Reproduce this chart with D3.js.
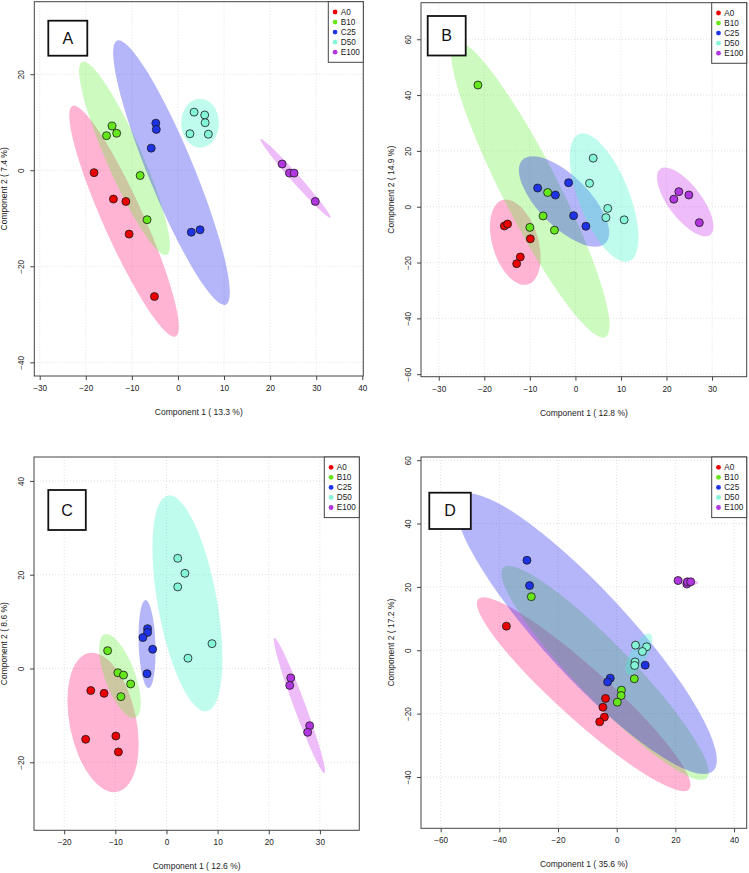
<!DOCTYPE html>
<html>
<head>
<meta charset="utf-8">
<script src="https://cdn.jsdelivr.net/npm/d3@7"></script>
<style>
  body { margin: 0; background: #fff; }
  svg { display: block; }
  text { font-family: "Liberation Sans", Arial, sans-serif; fill: #222; }
</style>
</head>
<body>
<div id="plot"></div>
<script>
"use strict";

//
//   DATA
//

var groups = ["A0", "B10", "C25", "D50", "E100"];
var pointColors = ["#ea0000", "#66e61c", "#1f33e6", "#84f5d6", "#b136e0"];
var ellipseColors = ["#ff1a78", "#64f03c", "#1e1ef0", "#40f5cc", "#cc33ee"];

// points: [group index, component 1, component 2]
var pointsA = [
    [0, -18.2, -0.5], [0, -14.0, -6.0], [0, -11.3, -6.5], [0, -10.6, -13.3], [0, -5.1, -26.3],
    [1, -14.3, 9.2], [1, -15.5, 7.2], [1, -13.3, 7.7], [1, -8.2, -1.1], [1, -6.7, -10.3],
    [2, -4.8, 9.8], [2, -4.7, 8.5], [2, -5.8, 4.6], [2, 2.9, -12.9], [2, 4.8, -12.4],
    [3, 3.5, 12.1], [3, 5.8, 11.5], [3, 5.9, 9.9], [3, 2.6, 7.6], [3, 6.6, 7.5],
    [4, 22.6, 1.3], [4, 24.2, -0.6], [4, 25.2, -0.6], [4, 29.8, -6.5]
];
var pointsB = [
    [0, -15.6, -6.9], [0, -14.9, -6.2], [0, -9.9, -11.5], [0, -12.1, -18.0], [0, -12.9, -20.4],
    [1, -21.4, 43.6], [1, -6.1, 5.1], [1, -7.1, -3.3], [1, -10.0, -7.4], [1, -4.6, -8.4],
    [2, -8.3, 6.7], [2, -4.4, 4.2], [2, -1.5, 8.6], [2, -0.4, -3.2], [2, 2.3, -7.0],
    [3, 3.9, 17.4], [3, 3.1, 8.4], [3, 7.1, -0.6], [3, 6.7, -3.9], [3, 10.7, -4.7],
    [4, 21.6, 2.7], [4, 22.7, 5.4], [4, 24.9, 4.2], [4, 27.2, -5.7]
];
var pointsC = [
    [0, -14.8, -4.7], [0, -12.2, -5.3], [0, -15.8, -15.1], [0, -9.9, -14.4], [0, -9.4, -17.8],
    [1, -11.5, 3.8], [1, -9.5, -0.9], [1, -8.4, -1.4], [1, -7.0, -3.3], [1, -8.9, -6.0],
    [2, -3.7, 8.5], [2, -3.7, 7.7], [2, -4.6, 6.6], [2, -2.7, 4.1], [2, -3.8, -1.1],
    [3, 2.2, 23.5], [3, 3.6, 20.3], [3, 2.2, 17.4], [3, 8.9, 5.3], [3, 4.2, 2.2],
    [4, 24.3, -2.0], [4, 24.1, -3.6], [4, 28.0, -12.2], [4, 27.6, -13.6]
];
var pointsD = [
    [0, -37.6, 7.6], [0, -3.8, -15.2], [0, -4.7, -18.0], [0, -4.2, -21.1], [0, -5.8, -22.6],
    [1, -29.1, 16.9], [1, 1.6, -12.6], [1, 1.5, -14.3], [1, 0.2, -16.4], [1, 6.0, -9.0],
    [2, -30.6, 28.4], [2, -29.7, 20.4], [2, -2.2, -8.8], [2, -3.1, -10.0], [2, 9.7, -4.7],
    [3, 6.4, 1.6], [3, 10.2, 1.1], [3, 8.75, -0.4], [3, 6.25, -3.7], [3, 6.1, -4.8],
    [4, 20.9, 22.0], [4, 23.9, 20.9], [4, 24.1, 21.6], [4, 25.2, 21.6]
];

// ellipses: [group index, centre x, centre y, major tip x, major tip y, minor/major ratio]
var ellipsesA = [
    [0, -11.7, -10.6, -22.9, 13.4, 0.16],
    [1, -11.6, 2.5, -20.8, 22.6, 0.17],
    [2, -1.4, -0.5, -13.2, 27.0, 0.16],
    [3, 4.8, 9.8, 4.8, 14.9, 0.77],
    [4, 25.5, -1.7, 17.9, 6.5, 0.08]
];
var ellipsesB = [
    [0, -13.2, -12.7, -16.0, 2.4, 0.52],
    [1, -9.9, 6.2, -26.4, 59.1, 0.17],
    [2, -2.5, 1.9, -11.6, 16.8, 0.43],
    [3, 6.3, 3.3, 0.8, 26.1, 0.37],
    [4, 24.1, 1.7, 18.6, 13.5, 0.40]
];
var ellipsesC = [
    [0, -12.4, -11.5, -15.2, 3.3, 0.47],
    [1, -9.1, -1.6, -12.1, 7.3, 0.34],
    [2, -3.8, 5.2, -4.1, 14.6, 0.19],
    [3, 4.1, 13.9, 0.3, 36.9, 0.27],
    [4, 26.0, -7.9, 21.1, 6.5, 0.08]
];
var ellipsesD = [
    [0, -11.25, -13.9, -47.2, 16.1, 0.18],
    [1, -4.0, -7.15, -38.7, 26.1, 0.19],
    [2, -10.3, 5.2, -53.4, 48.5, 0.23],
    [3, 7.6, -1.2, 11.4, 5.2, 0.36],
    [4, 23.9, 21.6, 27.8, 21.2, 0.26]
];

var xTicksA = [-30, -20, -10, 0, 10, 20, 30, 40];
var yTicksA = [-40, -20, 0, 20];
var xTicksB = [-30, -20, -10, 0, 10, 20, 30];
var yTicksB = [-60, -40, -20, 0, 20, 40, 60];
var xTicksC = [-20, -10, 0, 10, 20, 30];
var yTicksC = [-20, 0, 20, 40];
var xTicksD = [-60, -40, -20, 0, 20, 40];
var yTicksD = [-40, -20, 0, 20, 40, 60];

var xTitles = ["Component 1 ( 13.3 %)", "Component 1 ( 12.8 %)", "Component 1 ( 12.6 %)", "Component 1 ( 35.6 %)"];
var yTitles = ["Component 2 ( 7.4 %)", "Component 2 ( 14.9 %)", "Component 2 ( 8.6 %)", "Component 2 ( 17.2 %)"];
var panelLetters = ["A", "B", "C", "D"];


//
//   LAYOUT
//

var WIDTH = 749;
var HEIGHT = 873;
var POINT_R = 4;
var ELLIPSE_OPACITY = 0.33;

var panels = [
    { box: [34.3, 1.7, 363.3, 376], xDom: [-31.17, 40.22], yDom: [35.1, -42.85],
      xTicks: xTicksA, yTicks: yTicksA, points: pointsA, ellipses: ellipsesA, tag: [14, 19, 39, 35] },
    { box: [421, 2.7, 746.7, 376.7], xDom: [-33.9, 37.6], yDom: [73.1, -60.9],
      xTicks: xTicksB, yTicks: yTicksB, points: pointsB, ellipses: ellipsesB, tag: [6.7, 13.3, 38, 39.5] },
    { box: [34, 457, 359.3, 830.3], xDom: [-25.9, 37.7], yDom: [45.1, -34.5],
      xTicks: xTicksC, yTicks: yTicksC, points: pointsC, ellipses: ellipsesC, tag: [14.3, 33, 37.5, 40] },
    { box: [421, 457, 746.7, 828.3], xDom: [-66.7, 44.3], yDom: [61.0, -56.2],
      xTicks: xTicksD, yTicks: yTicksD, points: pointsD, ellipses: ellipsesD, tag: [8.3, 35.7, 41.5, 36.3] }
];

var svg = d3.select("#plot").append("svg")
    .attr("width", WIDTH)
    .attr("height", HEIGHT);

panels.forEach(function (p, i) {
    drawPanel(p, i);
});


//
//   DRAWING
//

function drawPanel(p, i) {
    var left = p.box[0], top = p.box[1], right = p.box[2], bottom = p.box[3];
    var x = d3.scaleLinear().domain(p.xDom).range([left, right]);
    var y = d3.scaleLinear().domain(p.yDom).range([top, bottom]);
    var g = svg.append("g");

    // Gridlines
    p.xTicks.forEach(function (t) {
        g.append("line")
            .attr("x1", x(t)).attr("x2", x(t)).attr("y1", top).attr("y2", bottom)
            .attr("stroke", "#d9d9d9").attr("stroke-width", 0.8).attr("stroke-dasharray", "1,2");
    });
    p.yTicks.forEach(function (t) {
        g.append("line")
            .attr("x1", left).attr("x2", right).attr("y1", y(t)).attr("y2", y(t))
            .attr("stroke", "#d9d9d9").attr("stroke-width", 0.8).attr("stroke-dasharray", "1,2");
    });

    // Ellipses clipped to the box
    var clipId = "clip" + i;
    g.append("clipPath").attr("id", clipId).append("rect")
        .attr("x", left).attr("y", top).attr("width", right - left).attr("height", bottom - top);

    g.append("g").attr("clip-path", "url(#" + clipId + ")")
        .selectAll("ellipse").data(p.ellipses).enter().append("ellipse")
        .attr("rx", function (e) { return ellipseAxis(e, x, y).a; })
        .attr("ry", function (e) { return ellipseAxis(e, x, y).a * e[5]; })
        .attr("transform", function (e) {
            var ax = ellipseAxis(e, x, y);
            return "translate(" + x(e[1]) + "," + y(e[2]) + ") rotate(" + ax.angle + ")";
        })
        .attr("fill", function (e) { return ellipseColors[e[0]]; })
        .attr("fill-opacity", ELLIPSE_OPACITY);

    // Points
    g.selectAll("circle.pt").data(p.points).enter().append("circle")
        .attr("class", "pt")
        .attr("cx", function (d) { return x(d[1]); })
        .attr("cy", function (d) { return y(d[2]); })
        .attr("r", POINT_R)
        .attr("fill", function (d) { return pointColors[d[0]]; })
        .attr("stroke", "#1a1a1a")
        .attr("stroke-width", 0.8);

    // Box
    g.append("rect")
        .attr("x", left).attr("y", top).attr("width", right - left).attr("height", bottom - top)
        .attr("fill", "none").attr("stroke", "#444").attr("stroke-width", 1);

    // Axes (ticks outside the box)
    var xAxis = d3.axisBottom(x).tickValues(p.xTicks).tickSize(4).tickPadding(5).tickFormat(d3.format("d"));
    var ax = g.append("g").attr("transform", "translate(0," + bottom + ")").call(xAxis);
    styleAxis(ax);

    var yAxis = d3.axisLeft(y).tickValues(p.yTicks).tickSize(4).tickPadding(0).tickFormat(d3.format("d"));
    var ay = g.append("g").attr("transform", "translate(" + left + ",0)").call(yAxis);
    styleAxis(ay);
    ay.selectAll(".tick text")
        .attr("x", 0).attr("dy", 0)
        .attr("text-anchor", "middle")
        .attr("transform", "translate(-10.5,0) rotate(-90)");

    // Axis titles
    g.append("text")
        .attr("x", (left + right) / 2).attr("y", bottom + 39)
        .attr("text-anchor", "middle").attr("font-size", 8.5)
        .text(xTitles[i]);
    g.append("text")
        .attr("transform", "translate(" + (left - 27) + "," + ((top + bottom) / 2) + ") rotate(-90)")
        .attr("text-anchor", "middle").attr("font-size", 8.5)
        .text(yTitles[i]);

    // Panel letter
    g.append("rect")
        .attr("x", left + p.tag[0]).attr("y", top + p.tag[1])
        .attr("width", p.tag[2]).attr("height", p.tag[3])
        .attr("fill", "#fff").attr("stroke", "#111").attr("stroke-width", 1.8);
    g.append("text")
        .attr("x", left + p.tag[0] + p.tag[2] / 2).attr("y", top + p.tag[1] + p.tag[3] / 2 + 5.5)
        .attr("text-anchor", "middle")
        .attr("font-family", "'DejaVu Sans', sans-serif")
        .attr("font-size", 16)
        .style("fill", "#111")
        .text(panelLetters[i]);

    drawLegend(g, right, top);
}

function drawLegend(g, right, top) {
    var lg = g.append("g").attr("transform", "translate(" + (right - 35) + "," + top + ")");
    lg.append("rect")
        .attr("width", 35).attr("height", 60.6)
        .attr("fill", "#fff").attr("stroke", "#444").attr("stroke-width", 1);
    var rows = lg.selectAll("g.row").data(groups).enter().append("g")
        .attr("class", "row")
        .attr("transform", function (d, k) { return "translate(0," + (10.3 + k * 10.05) + ")"; });
    rows.append("circle")
        .attr("cx", 6.8).attr("r", 2.4)
        .attr("fill", function (d, k) { return pointColors[k]; });
    rows.append("text")
        .attr("x", 12.5).attr("dy", "0.35em")
        .attr("font-size", 8.2)
        .text(function (d) { return d; });
}

function styleAxis(a) {
    a.select(".domain").remove();
    a.selectAll(".tick line").attr("stroke", "#444");
    a.selectAll(".tick text")
        .attr("font-family", "'Liberation Sans', Arial, sans-serif")
        .attr("font-size", 8.2)
        .attr("fill", "#222");
}

//
//   HELPERS
//

// Major axis of an ellipse in pixel space: length and angle
function ellipseAxis(e, x, y) {
    var dx = x(e[3]) - x(e[1]);
    var dy = y(e[4]) - y(e[2]);
    return { a: Math.sqrt(dx * dx + dy * dy), angle: Math.atan2(dy, dx) * 180 / Math.PI };
}
</script>
</body>
</html>
